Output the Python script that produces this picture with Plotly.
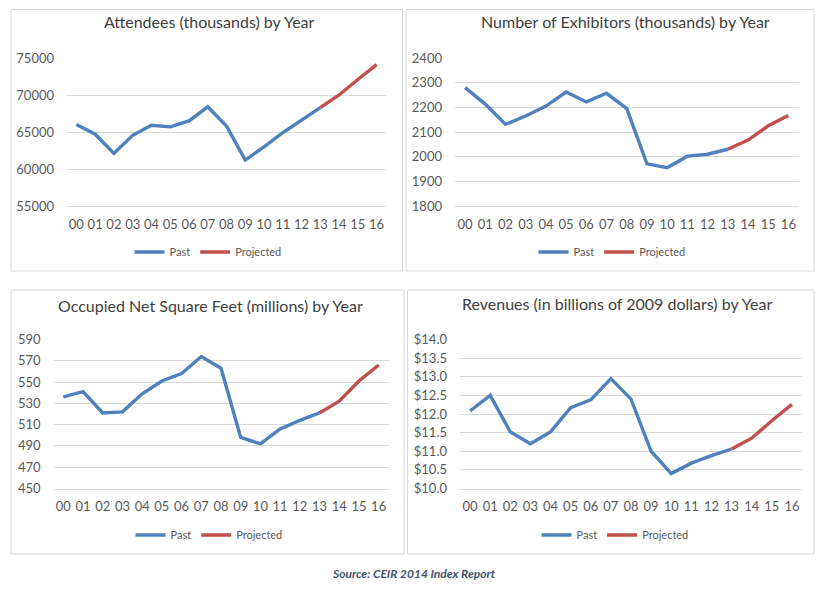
import plotly.graph_objects as go

# data
years = ["00", "01", "02", "03", "04", "05", "06", "07", "08",
         "09", "10", "11", "12", "13", "14", "15", "16"]
split = 13  # "13" is the last past year and the first projected one

attendees = [66000, 64700, 62100, 64550, 65900, 65700, 66500, 68400, 65800,
             61200, 63000, 64900, 66600, 68300, 70000, 72100, 74100]
exhibitors = [2280, 2213, 2131, 2165, 2205, 2262, 2222, 2257, 2195,
              1971, 1955, 2002, 2010, 2030, 2067, 2125, 2167]
sq_feet = [536, 541, 521, 522, 539, 551, 558, 574, 563,
           498, 492, 506, 514, 521, 532, 551, 566]
revenues = [12.08, 12.50, 11.52, 11.20, 11.52, 12.17, 12.38, 12.95, 12.40,
            11.00, 10.40, 10.68, 10.88, 11.06, 11.35, 11.82, 12.26]

titles = ["Attendees (thousands) by Year",
          "Number of Exhibitors (thousands) by Year",
          "Occupied Net Square Feet (millions) by Year",
          "Revenues (in billions of 2009 dollars) by Year"]

# page is 826x589 but the body has an 8px margin, so the figure is a bit smaller
OFF = 8
W, H = 826 - 2 * OFF, 589 - 2 * OFF
BLUE = "#4f81bd"
RED = "#c0504d"
GRID = "#d9d9d9"
TXT = "#595959"
FONT = "Lato"


def px(x):
    return (x - OFF) / W


def py(y):
    return 1 - (y - OFF) / H


# page-pixel geometry of each panel: plot area, box, title, legend
panels = [
    dict(data=attendees, plot=(67, 386, 58, 206), box=(11, 402.5, 9.5, 271),
         title=(209, 22), legend=(208, 252), rng=[55000, 75000], dtick=5000,
         fmt="d", prefix=""),
    dict(data=exhibitors, plot=(455, 798.5, 58, 206), box=(406, 814, 9.5, 271),
         title=(625, 22), legend=(612, 252), rng=[1800, 2400], dtick=100,
         fmt="d", prefix=""),
    dict(data=sq_feet, plot=(53.5, 388.5, 339.5, 488.5), box=(11, 404, 290, 554),
         title=(210, 305), legend=(209, 535), rng=[450, 590], dtick=20,
         fmt="d", prefix=""),
    dict(data=revenues, plot=(460, 802, 339.5, 488.5), box=(407.5, 814, 290, 554),
         title=(617, 303), legend=(615, 535), rng=[10, 14], dtick=0.5,
         fmt=".1f", prefix="$"),
]

fig = go.Figure()
shapes = []
annotations = []

for i, p in enumerate(panels):
    n = "" if i == 0 else str(i + 1)
    leg = "legend" + n
    vals = p["data"]
    fig.add_trace(go.Scatter(x=years[:split + 1], y=vals[:split + 1], mode="lines",
                             name="Past", line=dict(color=BLUE, width=3.4),
                             xaxis="x" + n, yaxis="y" + n, legend=leg))
    fig.add_trace(go.Scatter(x=years[split:], y=vals[split:], mode="lines",
                             name="Projected", line=dict(color=RED, width=3.4),
                             xaxis="x" + n, yaxis="y" + n, legend=leg))

    x0, x1, y0, y1 = p["plot"]
    fig.update_layout(**{
        "xaxis" + n: dict(domain=[px(x0), px(x1)], anchor="y" + n,
                          type="category", categoryorder="array", categoryarray=years,
                          range=[-0.5, 16.5], showgrid=False, zeroline=False,
                          showline=True, linecolor=GRID, linewidth=1,
                          ticks="", ticklabelstandoff=6,
                          tickfont=dict(family=FONT, size=13, color=TXT)),
        "yaxis" + n: dict(domain=[py(y1), py(y0)], anchor="x" + n,
                          range=p["rng"], dtick=p["dtick"], tick0=p["rng"][0],
                          tickformat=p["fmt"], tickprefix=p["prefix"],
                          showgrid=True, gridcolor=GRID, gridwidth=1, zeroline=False,
                          showline=False, ticks="", ticklabelstandoff=12,
                          tickfont=dict(family=FONT, size=13, color=TXT)),
        leg: dict(orientation="h", x=px(p["legend"][0]), y=py(p["legend"][1]),
                  xanchor="center", yanchor="middle", bgcolor="rgba(0,0,0,0)",
                  font=dict(family=FONT, size=11, color=TXT), itemwidth=30,
                  tracegroupgap=0),
    })

    bx0, bx1, by0, by1 = p["box"]
    shapes.append(dict(type="rect", xref="paper", yref="paper",
                       x0=px(bx0), x1=px(bx1), y0=py(by1), y1=py(by0),
                       line=dict(color=GRID, width=1), layer="below"))
    annotations.append(dict(text=titles[i], xref="paper", yref="paper",
                            x=px(p["title"][0]), y=py(p["title"][1]),
                            xanchor="center", yanchor="middle", showarrow=False,
                            font=dict(family=FONT, size=16, color="#404040")))

annotations.append(dict(text="<b><i>Source: CEIR 2014 Index Report</i></b>",
                        xref="paper", yref="paper", x=px(414), y=py(573),
                        xanchor="center", yanchor="middle", showarrow=False,
                        font=dict(family=FONT, size=12, color="#44546a")))

fig.update_layout(width=W, height=H,
                  margin=dict(l=0, r=0, t=0, b=0, autoexpand=False),
                  paper_bgcolor="white", plot_bgcolor="white",
                  shapes=shapes, annotations=annotations)

fig.write_html("out.html")
